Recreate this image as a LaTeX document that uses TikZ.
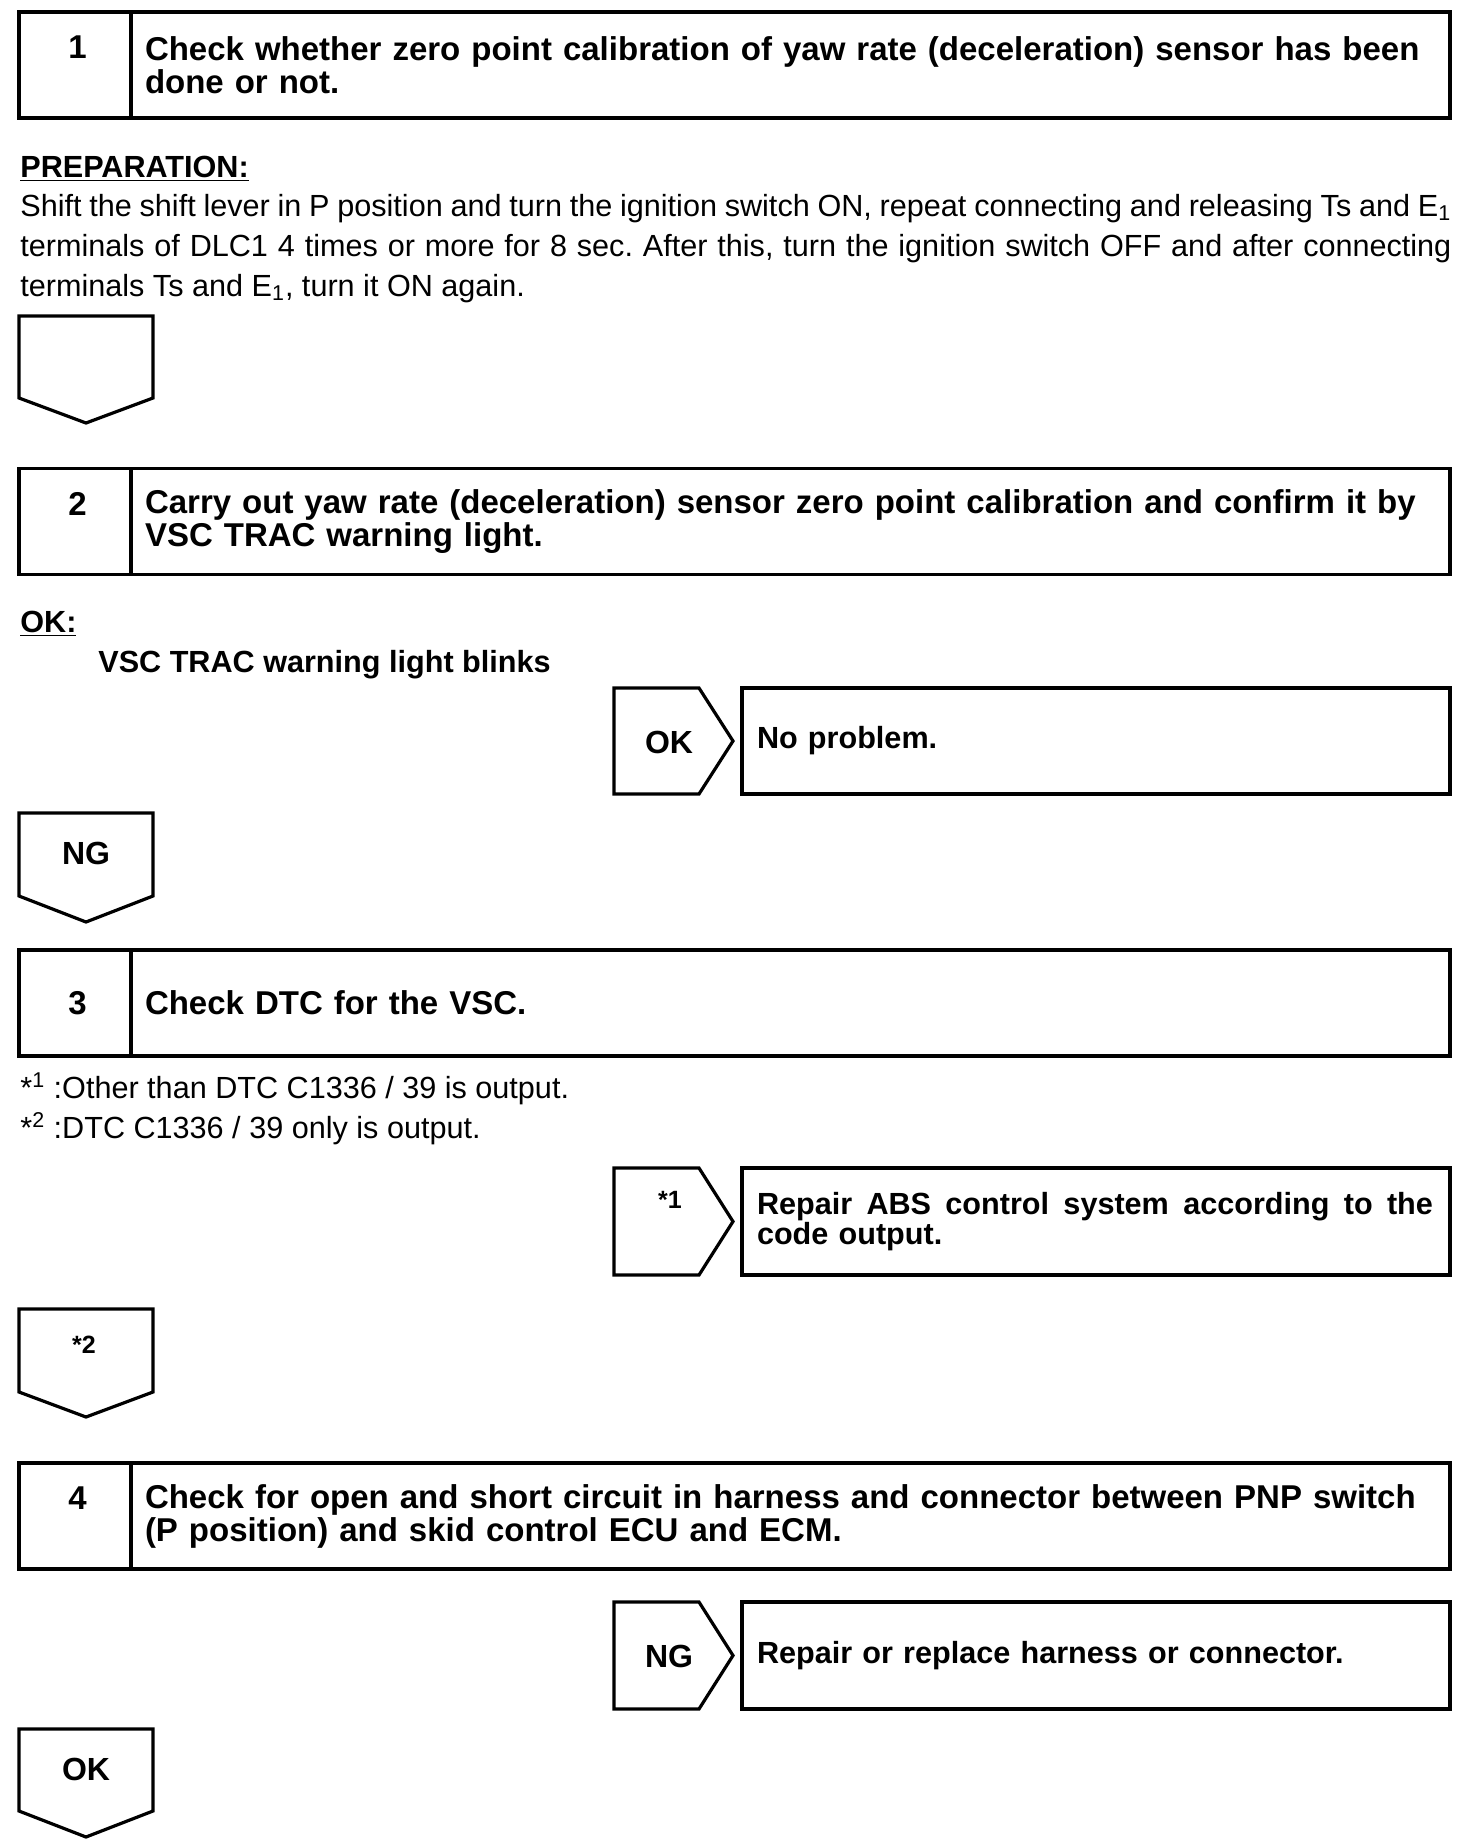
\documentclass[tikz,border=0pt]{standalone}
\usepackage{fontspec}
\setmainfont{Liberation Sans}
\frenchspacing
\newcommand{\justline}[2]{\makebox[#1][s]{\spaceskip=0.278em plus 3em minus 0.12em\relax #2}}
\begin{document}
\begin{tikzpicture}[x=0.5pt,y=-0.5pt,
  cell/.style={draw, line width=1.6pt, minimum height=53pt, inner sep=0pt},
  numcell/.style={cell, minimum width=56pt},
  txtcell/.style={cell, text width=645.5pt, inner xsep=7pt, align=left, steptxt},
  rescell/.style={cell, text width=339pt, inner xsep=7.5pt, align=left, btxt},
  steptxt/.style={font=\bfseries\fontsize{16.5}{16.5}\selectfont},
  numtxt/.style={inner sep=0pt, anchor=base, font=\bfseries\fontsize{16.5}{16.5}\selectfont},
  btxt/.style={font=\bfseries\fontsize{15.3}{15.3}\selectfont},
  lbltxt/.style={font=\bfseries\fontsize{16}{16}\selectfont},
  rtxt/.style={font=\fontsize{15.3}{20}\selectfont},
  smalltxt/.style={font=\bfseries\fontsize{12.5}{12.5}\selectfont},
  plain/.style={inner sep=0pt, anchor=base west},
  shp/.style={draw, line width=1.6pt, line join=miter}]

\path[use as bounding box, fill=white] (0,0) rectangle (1472,1848);

% ---- Step 1
\node[numcell] (c1) at (75,65) {};
\node[numtxt] (n1) at (77.5,58) {1};
\node[txtcell] (t1) at (790.5,65) {Check whether zero point calibration of yaw rate (deceleration) sensor has been\\done or not.};

\node[plain, btxt] (prep) at (20,177) {\underline{PREPARATION:}};
\node[plain, rtxt] (p1) at (20,216) {\justline{715.5pt}{Shift the shift lever in P position and turn the ignition switch ON, repeat connecting and releasing Ts and E\textsubscript{1}}};
\node[plain, rtxt] (p2) at (20,256) {\justline{715.5pt}{terminals of DLC1 4 times or more for 8 sec. After this, turn the ignition switch OFF and after connecting}};
\node[plain, rtxt] (p3) at (20,296) {terminals Ts and E\textsubscript{1}, turn it ON again.};

\draw[shp] (19,316) -- (153,316) -- (153,398) -- (86,423) -- (19,398) -- cycle;

% ---- Step 2
\node[numcell] (c2) at (75,521.5) {};
\node[numtxt] (n2) at (77.5,515) {2};
\node[txtcell] (t2) at (790.5,521.5) {Carry out yaw rate (deceleration) sensor zero point calibration and confirm it by\\VSC TRAC warning light.};

\node[plain, btxt] (okh) at (20,632) {\underline{OK:}};
\node[plain, btxt] (okt) at (98,672) {VSC TRAC warning light blinks};

\draw[shp] (614,688) -- (699,688) -- (733,741) -- (699,794) -- (614,794) -- cycle;
\node[lbltxt] (ok1) at (669,742) {OK};
\node[rescell] (r1) at (1096,741) {No problem.};

\draw[shp] (19,813) -- (153,813) -- (153,896) -- (86,922) -- (19,896) -- cycle;
\node[lbltxt] (ng1) at (86,853) {NG};

% ---- Step 3
\node[numcell] (c3) at (75,1003) {};
\node[numtxt] (n3) at (77.5,1014) {3};
\node[txtcell] (t3) at (790.5,1003) {Check DTC for the VSC.};

\node[plain, rtxt] (note1) at (20,1098) {*\textsuperscript{1} :Other than DTC C1336 / 39 is output.};
\node[plain, rtxt] (note2) at (20,1138) {*\textsuperscript{2} :DTC C1336 / 39 only is output.};

\draw[shp] (614,1168) -- (699,1168) -- (733,1221.5) -- (699,1275) -- (614,1275) -- cycle;
\node[smalltxt] (s1) at (670,1200) {*1};
\node[rescell, minimum height=53.5pt, font=\bfseries\fontsize{15.3}{15.3}\selectfont] (r2) at (1096,1221.5) {\justline{338pt}{Repair ABS control system according to the}\\code output.};

\draw[shp] (19,1309) -- (153,1309) -- (153,1392) -- (86,1417) -- (19,1392) -- cycle;
\node[smalltxt] (s2) at (84,1345) {*2};

% ---- Step 4
\node[numcell] (c4) at (75,1516) {};
\node[numtxt] (n4) at (77.5,1509) {4};
\node[txtcell] (t4) at (790.5,1516) {Check for open and short circuit in harness and connector between PNP switch\\(P position) and skid control ECU and ECM.};

\draw[shp] (614,1602) -- (699,1602) -- (733,1655.5) -- (699,1709) -- (614,1709) -- cycle;
\node[lbltxt] (ng2) at (669,1656) {NG};
\node[rescell, minimum height=53.5pt] (r3) at (1096,1655.5) {Repair or replace harness or connector.};

\draw[shp] (19,1729) -- (153,1729) -- (153,1811) -- (86,1837) -- (19,1811) -- cycle;
\node[lbltxt] (ok2) at (86,1769) {OK};
\end{tikzpicture}
\end{document}
